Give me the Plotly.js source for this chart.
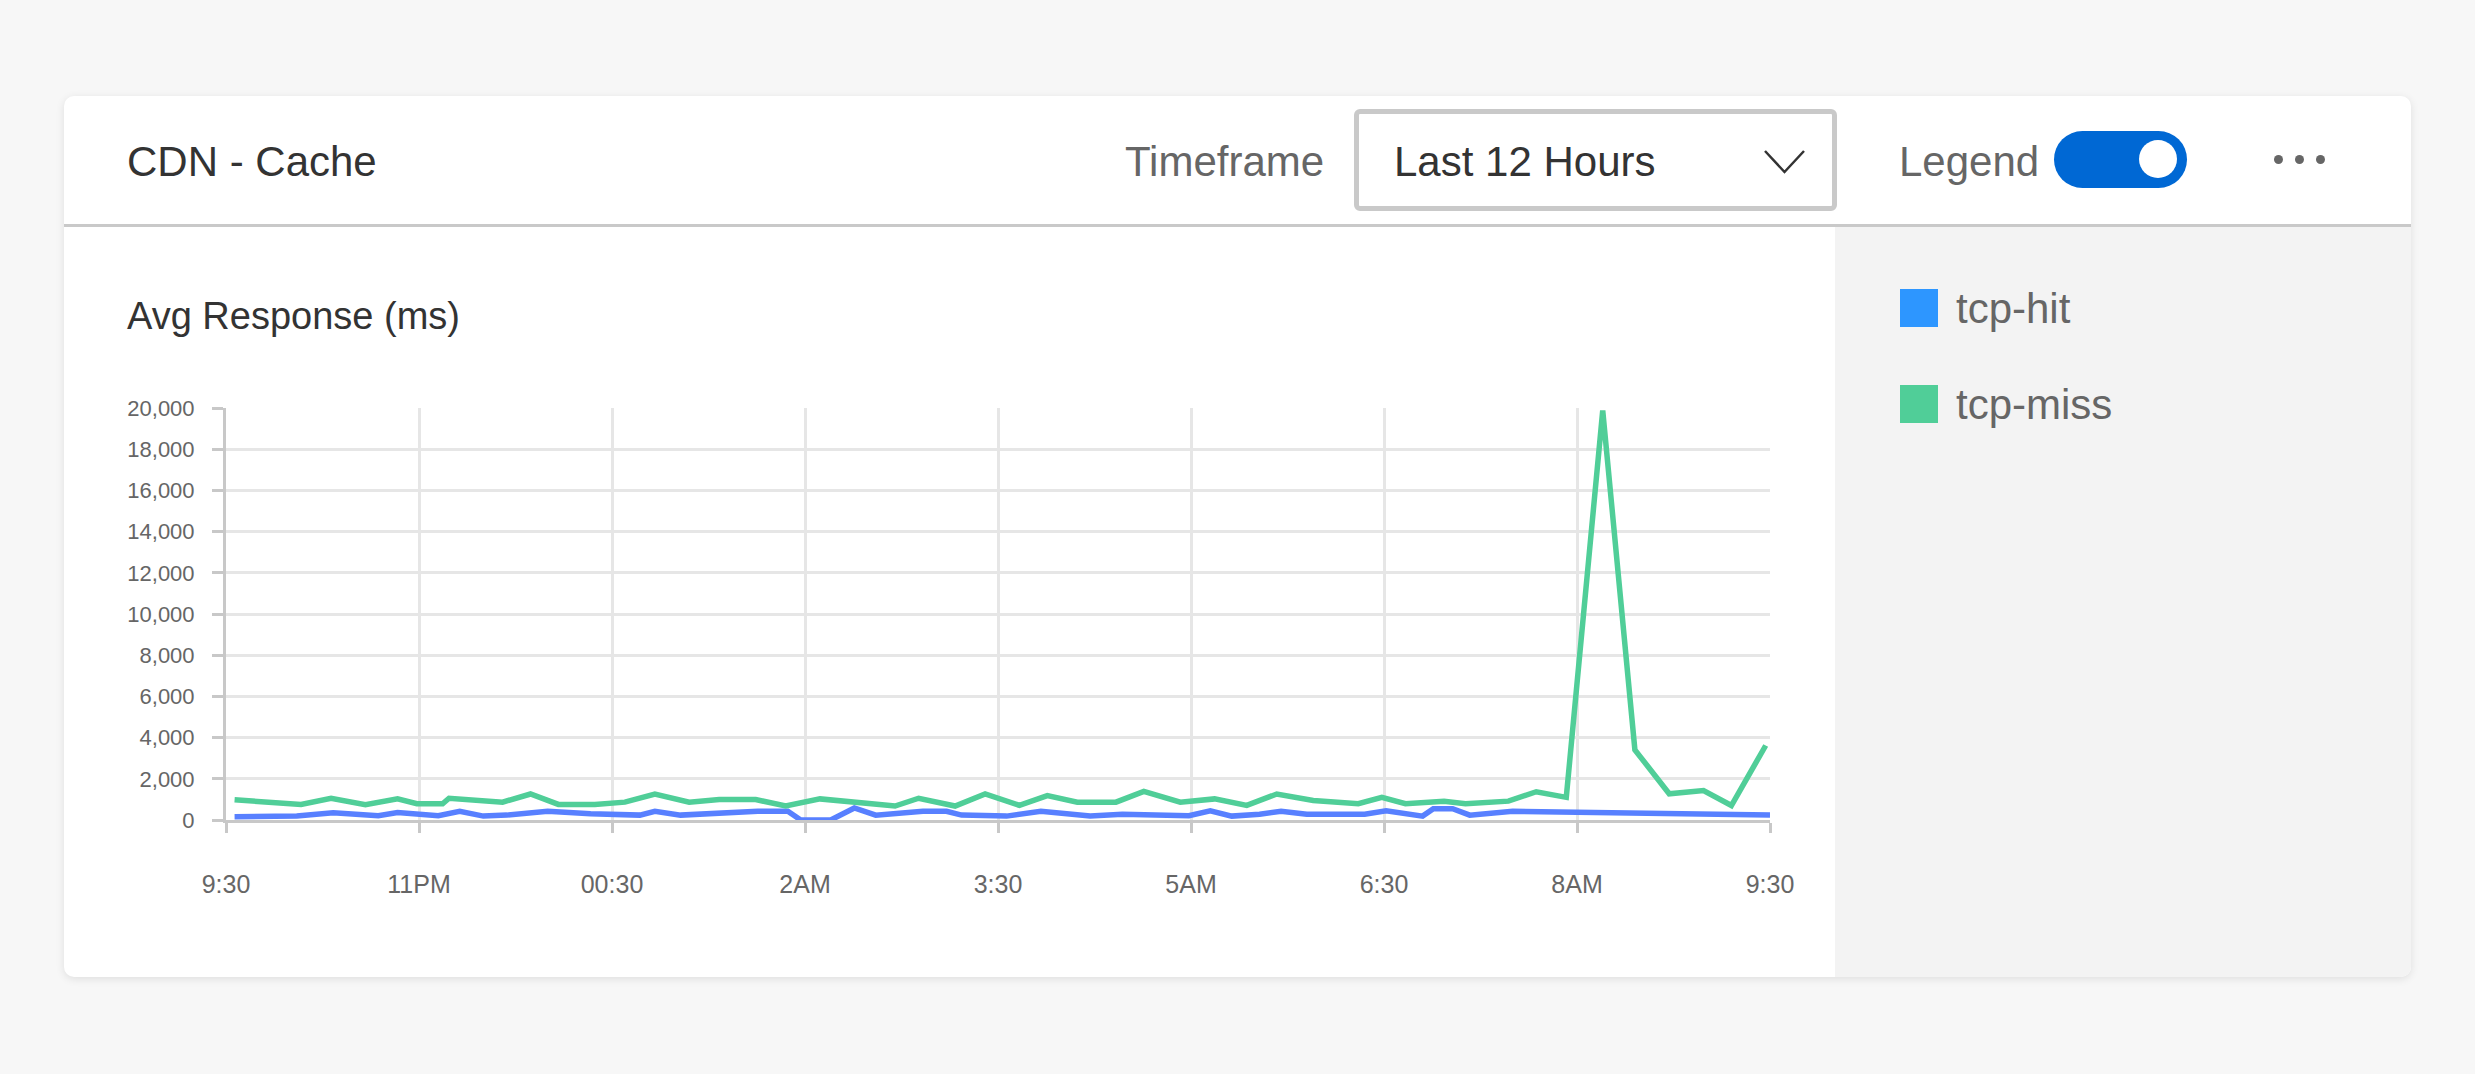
<!DOCTYPE html>
<html>
<head>
<meta charset="utf-8">
<script src="https://cdn.plot.ly/plotly-3.0.1.min.js"></script>
<style>
  html, body { margin:0; padding:0; }
  body { width:2475px; height:1074px; background:#f7f7f7; position:relative; overflow:hidden;
         font-family:"Liberation Sans", Arial, sans-serif; }
  .abs { position:absolute; }
  .card { left:64px; top:96px; width:2347px; height:881px; background:#fff; border-radius:10px;
          box-shadow:0 2px 8px rgba(0,0,0,0.10); overflow:hidden; }
  .divider { left:64px; top:224px; width:2347px; height:3px; background:#c9c9c9; }
  .legpanel { left:1835px; top:227px; width:576px; height:750px; background:#f3f3f3; border-bottom-right-radius:10px; }
  .txt { white-space:nowrap; line-height:1; }
  .dropdown { left:1354px; top:109px; width:483px; height:102px; box-sizing:border-box;
              border:5px solid #c9c9c9; border-radius:6px; background:#fff; }
  .toggle { left:2054px; top:131px; width:133px; height:57px; border-radius:29px; background:#0068d4; }
  .knob { left:2139px; top:140px; width:38px; height:38px; border-radius:50%; background:#fff; }
  .dot { width:9px; height:9px; border-radius:50%; background:#666; top:154.5px; }
  .sq { left:1900px; width:38px; height:38px; }
  #chart { left:120px; top:361px; width:1700px; height:560px; }
</style>
</head>
<body>
<div class="abs card"></div>
<div class="abs divider"></div>
<div class="abs legpanel"></div>

<div class="abs txt" style="left:127px; top:140.5px; font-size:42px; color:#333;">CDN - Cache</div>
<div class="abs txt" style="left:1125px; top:140.5px; font-size:42px; color:#666;">Timeframe</div>
<div class="abs dropdown"></div>
<div class="abs txt" style="left:1394px; top:140.5px; font-size:42px; color:#333;">Last 12 Hours</div>
<svg class="abs" style="left:1760px; top:146px;" width="50" height="32">
  <polyline points="5,5 24.5,26 44,5" fill="none" stroke="#333" stroke-width="2.5"/>
</svg>
<div class="abs txt" style="left:1899px; top:140.5px; font-size:42px; color:#666;">Legend</div>
<div class="abs toggle"></div>
<div class="abs knob"></div>
<div class="abs dot" style="left:2273.5px;"></div>
<div class="abs dot" style="left:2294.5px;"></div>
<div class="abs dot" style="left:2315.5px;"></div>

<div class="abs txt" style="left:127px; top:297px; font-size:38px; color:#333;">Avg Response (ms)</div>

<div class="abs sq" style="top:289px; background:#2d96ff;"></div>
<div class="abs txt" style="left:1956px; top:287.7px; font-size:42px; color:#666;">tcp-hit</div>
<div class="abs sq" style="top:385px; background:#50ce98;"></div>
<div class="abs txt" style="left:1956px; top:383.7px; font-size:42px; color:#666;">tcp-miss</div>

<div id="chart" class="abs"></div>

<script>
// ---- data (times are clock times from 21:30 to 09:30 next day) ----
const hitTimes = ["21:34","22:03","22:20","22:41","22:50","23:09","23:19","23:30","23:41","00:00",
  "00:20","00:43","00:50","01:02","01:38","01:52","01:58","02:12","02:23","02:33",
  "02:55","03:06","03:13","03:34","03:50","04:13","04:28","04:59","05:09","05:19",
  "05:32","05:42","05:54","06:21","06:31","06:48","06:53","07:02","07:10","07:30","09:30"];
const hitValues = [158,189,347,205,363,205,426,189,237,426,
  300,237,426,237,426,426,0,0,583,237,
  426,426,237,189,426,189,284,205,442,189,
  284,426,284,284,442,189,552,552,237,426,237];

const missTimes = ["21:34","22:05","22:19","22:35","22:50","22:59","23:11","23:14","23:39","23:52",
  "00:05","00:22","00:36","00:50","01:06","01:20","01:37","01:51","02:07","02:24",
  "02:42","02:53","03:10","03:24","03:40","03:53","04:07","04:25","04:38","04:55",
  "05:11","05:26","05:40","05:57","06:18","06:29","06:40","06:58","07:08","07:28",
  "07:41","07:55","08:12","08:27","08:43","08:59","09:12","09:28"];
const missValues = [978,757,1057,741,1025,789,789,1057,867,1262,
  757,757,867,1262,867,994,994,678,1025,867,
  678,1057,678,1262,710,1183,867,867,1388,867,
  1025,710,1262,946,789,1104,789,915,789,915,
  1372,1100,19880,3407,1272,1432,704,3617];

const tickTimes = ["21:30","23:00","00:30","02:00","03:30","05:00","06:30","08:00","09:30"];
const tickLabels = ["9:30","11PM","00:30","2AM","3:30","5AM","6:30","8AM","9:30"];

function toDate(t) {
  const h = parseInt(t.split(":")[0], 10);
  return (h >= 12 ? "2024-01-01 " : "2024-01-02 ") + t;
}

const traces = [
  { x: hitTimes.map(toDate), y: hitValues, name: "tcp-hit", type: "scatter", mode: "lines",
    line: { color: "#5880ff", width: 5.5 }, hoverinfo: "skip" },
  { x: missTimes.map(toDate), y: missValues, name: "tcp-miss", type: "scatter", mode: "lines",
    line: { color: "#50ce98", width: 5.5 }, hoverinfo: "skip" }
];

const layout = {
  width: 1700, height: 560,
  margin: { l: 106, r: 50, t: 47, b: 101 },
  paper_bgcolor: "rgba(0,0,0,0)",
  plot_bgcolor: "rgba(0,0,0,0)",
  showlegend: false,
  font: { family: "Liberation Sans, Arial, sans-serif", color: "#666" },
  xaxis: {
    type: "date",
    range: [toDate("21:30"), toDate("09:30")],
    tickmode: "array",
    tickvals: tickTimes.map(toDate),
    ticktext: tickLabels,
    showgrid: true, gridcolor: "#e6e6e6", gridwidth: 3,
    showline: true, linecolor: "#c8c8c8", linewidth: 3,
    ticks: "outside", ticklen: 10, tickwidth: 3, tickcolor: "#c8c8c8",
    tickfont: { size: 25, color: "#666" },
    ticklabelstandoff: 30,
    zeroline: false, fixedrange: true
  },
  yaxis: {
    range: [0, 20000],
    dtick: 2000, tick0: 0,
    tickformat: ",d",
    showgrid: true, gridcolor: "#e6e6e6", gridwidth: 3,
    showline: true, linecolor: "#c8c8c8", linewidth: 3,
    ticks: "outside", ticklen: 11, tickwidth: 3, tickcolor: "#c8c8c8",
    tickfont: { size: 22, color: "#666" },
    ticklabelstandoff: 13,
    zeroline: false, fixedrange: true
  }
};

Plotly.newPlot("chart", traces, layout, { displayModeBar: false, staticPlot: true });
</script>
</body>
</html>
